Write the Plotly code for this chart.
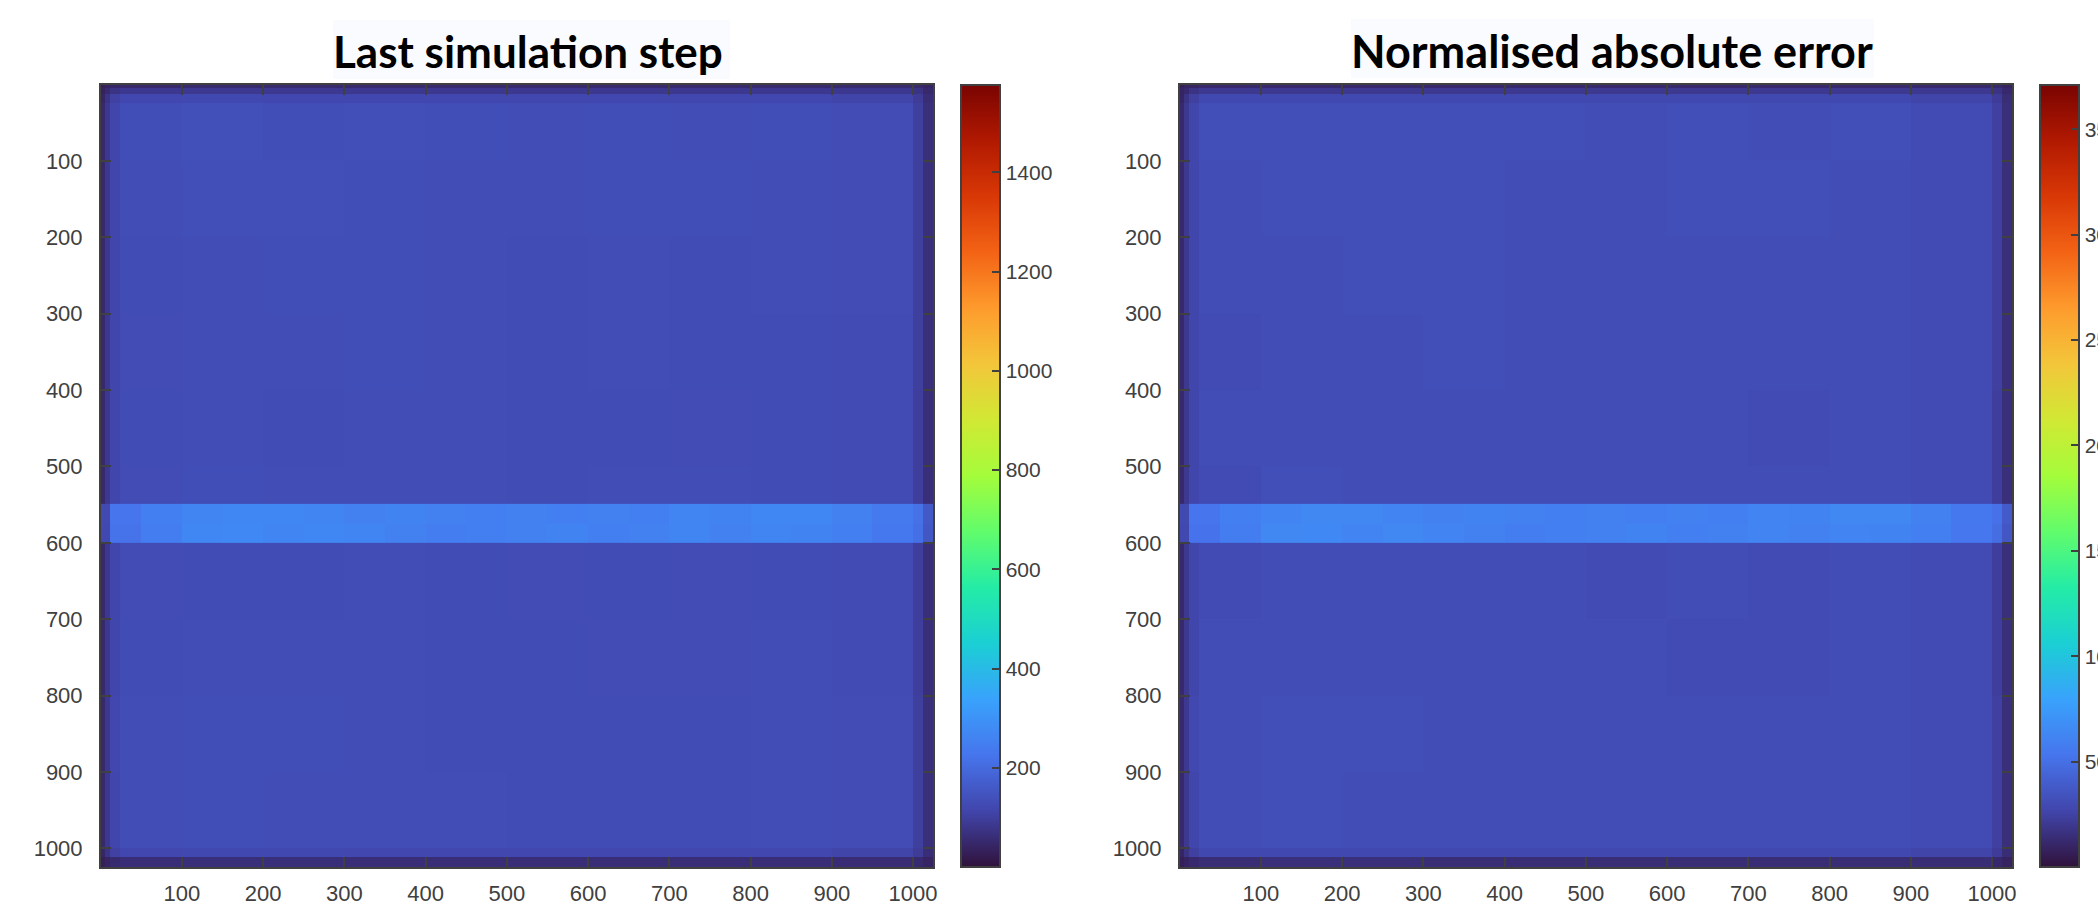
import plotly.graph_objects as go

# Values are by-eye regional estimates; the per-pixel speckle is not readable.
x_edges = [0.5, 5, 12, 24, 100, 200, 300, 400, 500, 600, 700, 800, 900, 1000, 1012, 1024.5]
y_edges = [0.5, 5, 12, 24, 100, 200, 300, 400, 500, 549, 600, 700, 800, 900, 1000, 1012, 1024.5]
band_x_edges = [0.5, 12, 50, 100, 150, 200, 250, 300, 350, 400, 450, 500, 550, 600, 650, 700, 750, 800, 850, 900, 950, 1000, 1012, 1024.5]
band_y_edges = [549, 575, 600]

left_z = [
    [30, 36, 44, 50, 52, 52, 52, 52, 52, 52, 52, 52, 52, 50, 40],
    [36, 52, 72, 84, 86, 86, 84, 84, 84, 84, 84, 84, 84, 74, 50],
    [44, 72, 104, 118, 120, 118, 118, 118, 118, 118, 118, 118, 112, 92, 60],
    [50, 84, 116, 134, 138, 134, 136, 134, 132, 134, 132, 134, 128, 100, 64],
    [50, 84, 116, 132, 136, 136, 134, 132, 132, 134, 134, 132, 128, 100, 64],
    [50, 84, 116, 130, 132, 134, 134, 132, 130, 132, 130, 132, 128, 100, 64],
    [50, 84, 114, 128, 132, 132, 134, 132, 130, 132, 130, 130, 126, 100, 64],
    [50, 84, 116, 130, 132, 130, 132, 132, 130, 130, 128, 130, 126, 98, 62],
    [50, 84, 114, 128, 134, 132, 132, 132, 130, 132, 132, 130, 126, 98, 62],
    [52, 86, 116, 130, 132, 132, 132, 130, 130, 130, 128, 130, 126, 100, 64],
    [50, 84, 114, 128, 130, 130, 132, 130, 128, 130, 128, 130, 126, 98, 62],
    [50, 84, 116, 130, 132, 132, 132, 130, 130, 128, 128, 132, 126, 98, 62],
    [50, 84, 118, 132, 134, 134, 132, 130, 130, 130, 130, 132, 128, 100, 64],
    [50, 84, 116, 132, 134, 132, 132, 132, 130, 130, 130, 132, 128, 100, 64],
    [44, 72, 104, 118, 120, 120, 118, 118, 118, 118, 118, 118, 112, 92, 60],
    [30, 40, 52, 60, 62, 62, 60, 60, 60, 60, 60, 60, 58, 52, 40],
]
left_band_z = [
    [125, 225, 250, 265, 270, 270, 265, 255, 260, 255, 250, 255, 250, 255, 250, 265, 260, 270, 270, 255, 235, 215, 160],
    [120, 220, 245, 270, 275, 265, 270, 265, 255, 245, 250, 255, 260, 250, 255, 265, 255, 265, 260, 250, 230, 210, 155],
]
right_z = [
    [7, 9, 10, 12, 12, 12, 12, 12, 12, 12, 12, 12, 12, 12, 9],
    [9, 12, 17, 20, 20, 20, 20, 20, 20, 20, 20, 20, 20, 17, 12],
    [10, 17, 24, 28, 28, 28, 28, 28, 28, 28, 28, 28, 26, 22, 14],
    [12, 20, 27, 32, 32, 32, 32, 32, 31, 32, 31, 32, 30, 24, 15],
    [12, 20, 27, 31, 32, 32, 32, 31, 31, 32, 32, 31, 30, 24, 15],
    [12, 20, 27, 31, 31, 32, 32, 31, 31, 31, 31, 31, 30, 24, 15],
    [12, 20, 27, 30, 31, 31, 32, 31, 31, 31, 31, 31, 30, 24, 15],
    [12, 20, 27, 31, 31, 31, 31, 31, 31, 31, 30, 31, 30, 23, 15],
    [12, 20, 27, 30, 32, 31, 31, 31, 31, 31, 31, 31, 30, 23, 15],
    [12, 20, 27, 31, 31, 31, 31, 31, 31, 31, 30, 31, 30, 24, 15],
    [12, 20, 27, 30, 31, 31, 31, 31, 30, 31, 30, 31, 30, 23, 15],
    [12, 20, 27, 31, 31, 31, 31, 31, 31, 30, 30, 31, 30, 23, 15],
    [12, 20, 28, 31, 32, 32, 31, 31, 31, 31, 31, 31, 30, 24, 15],
    [12, 20, 27, 31, 32, 31, 31, 31, 31, 31, 31, 31, 30, 24, 15],
    [10, 17, 24, 28, 28, 28, 28, 28, 28, 28, 28, 28, 26, 22, 14],
    [7, 9, 12, 14, 15, 15, 14, 14, 14, 14, 14, 14, 14, 12, 9],
]
right_band_z = [
    [29, 53, 59, 62, 64, 64, 62, 60, 61, 60, 59, 60, 59, 60, 59, 62, 61, 64, 64, 60, 55, 51, 38],
    [28, 52, 58, 64, 65, 62, 64, 62, 60, 58, 59, 60, 61, 59, 60, 62, 60, 62, 61, 59, 54, 49, 36],
]
tick_vals = [100, 200, 300, 400, 500, 600, 700, 800, 900, 1000]
left_cbar_ticks = [200, 400, 600, 800, 1000, 1200, 1400]
right_cbar_ticks = [50, 100, 150, 200, 250, 300, 350]
titles = ["Last simulation step", "Normalised absolute error"]

W, H = 2098, 905
INK = "#404040"
TOP, BOTTOM = 85, 867

fig = go.Figure()
fig.add_trace(go.Heatmap(x=x_edges, y=y_edges, z=left_z, coloraxis="coloraxis", xaxis="x", yaxis="y", hoverinfo="skip"))
fig.add_trace(go.Heatmap(x=band_x_edges, y=band_y_edges, z=left_band_z, coloraxis="coloraxis", xaxis="x", yaxis="y", hoverinfo="skip"))
fig.add_trace(go.Heatmap(x=x_edges, y=y_edges, z=right_z, coloraxis="coloraxis2", xaxis="x2", yaxis="y2", hoverinfo="skip"))
fig.add_trace(go.Heatmap(x=band_x_edges, y=band_y_edges, z=right_band_z, coloraxis="coloraxis2", xaxis="x2", yaxis="y2", hoverinfo="skip"))


def axis(domain, vertical):
    return dict(
        domain=domain, range=[1024.5, 0.5] if vertical else [0.5, 1024.5],
        tickmode="array", tickvals=tick_vals, ticks="inside", ticklen=10, tickwidth=2,
        tickcolor=INK, showline=True, linecolor=INK, linewidth=2, mirror="ticks",
        showgrid=False, zeroline=False, ticklabelstandoff=12 if vertical else 6,
        ticksuffix="" if vertical else "\u00a0",
        tickfont=dict(family="Liberation Sans", size=22, color=INK),
    )


def colorbar(x, vals):
    return dict(
        x=x / W, xanchor="left", xpad=0, ypad=0, y=1 - TOP / H, yanchor="top",
        len=(BOTTOM - TOP) / H, lenmode="fraction", thickness=39, thicknessmode="pixels",
        outlinecolor=INK, outlinewidth=2, tickmode="array", tickvals=vals, ticks="inside",
        ticklen=9, tickwidth=2, tickcolor=INK, tickprefix="\u00a0\u00a0",
        tickfont=dict(family="Liberation Sans", size=21, color=INK),
    )


def title_box(x0, x1, y0, y1):
    return dict(type="rect", xref="paper", yref="paper", x0=x0 / W, x1=x1 / W,
                y0=1 - y1 / H, y1=1 - y0 / H, fillcolor="#FAFBFE", line_width=0, layer="below")


y_dom = [1 - BOTTOM / H, 1 - TOP / H]
fig.update_layout(
    width=W, height=H, margin=dict(l=0, r=0, t=0, b=0, autoexpand=False),
    paper_bgcolor="white", plot_bgcolor="white",
    xaxis=dict(axis([101 / W, 933 / W], False), anchor="y"),
    yaxis=dict(axis(y_dom, True), anchor="x"),
    xaxis2=dict(axis([1180 / W, 2012 / W], False), anchor="y2"),
    yaxis2=dict(axis(y_dom, True), anchor="x2"),
    coloraxis=dict(colorscale="Turbo", cmin=0, cmax=1576, colorbar=colorbar(961, left_cbar_ticks)),
    coloraxis2=dict(colorscale="Turbo", cmin=0, cmax=371, colorbar=colorbar(2040, right_cbar_ticks)),
    shapes=[title_box(333, 730, 20, 79), title_box(1351, 1874, 19, 78)],
    annotations=[
        dict(text=f"<b>{titles[0]}</b>", x=528 / W, y=1 - 51 / H, xref="paper", yref="paper",
             showarrow=False, xanchor="center", yanchor="middle",
             font=dict(family="Lato", size=44, color="black")),
        dict(text=f"<b>{titles[1]}</b>", x=1612 / W, y=1 - 51 / H, xref="paper", yref="paper",
             showarrow=False, xanchor="center", yanchor="middle",
             font=dict(family="Lato", size=45, color="black")),
    ],
)
fig.write_html("out.html", config=dict(displayModeBar=False),
               post_script="document.body.style.margin='0';document.body.style.overflow='hidden';")
